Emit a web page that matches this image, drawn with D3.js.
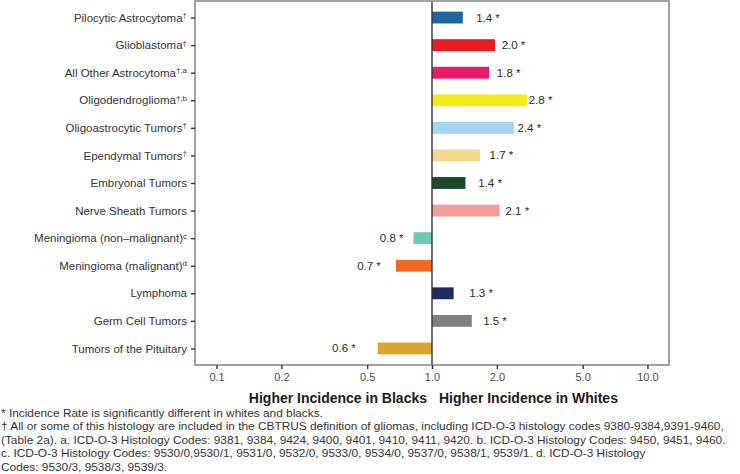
<!DOCTYPE html>
<html>
<head>
<meta charset="utf-8">
<script src="https://cdn.jsdelivr.net/npm/d3@7"></script>
<style>
  body { margin: 0; background: #fff; }
  svg { font-family: "Liberation Sans", Arial, sans-serif; }
</style>
</head>
<body>
<svg width="740" height="474"></svg>
<script>
// histologies, from top to bottom
const histologies = [
    "Pilocytic Astrocytoma", "Glioblastoma", "All Other Astrocytoma",
    "Oligodendroglioma", "Oligoastrocytic Tumors", "Ependymal Tumors",
    "Embryonal Tumors", "Nerve Sheath Tumors", "Meningioma (non\u2013malignant)",
    "Meningioma (malignant)", "Lymphoma", "Germ Cell Tumors", "Tumors of the Pituitary"
];
// superscripts after the names
const superscripts = ["\u2020", "\u2020", "\u2020,a", "\u2020,b", "\u2020", "\u2020", "", "", "c", "d", "", "", ""];

// incidence rate ratio whites / blacks
const ratios = [1.39, 1.96, 1.84, 2.76, 2.40, 1.67, 1.43, 2.06, 0.82, 0.68, 1.26, 1.53, 0.56];
const significant = [true, true, true, true, true, true, true, true, true, true, true, true, true];

const barColors = ["#1f65a0", "#ec1c24", "#ea1a6a", "#f4ea1c", "#a3d5f1", "#f6d78f", "#1a4a2b",
                   "#f49b9b", "#6dc9b0", "#ef6b24", "#1c2a5f", "#808080", "#e0a22e"];

const tickValues = [0.1, 0.2, 0.5, 1, 2, 5, 10];

const footnotes = [
    "* Incidence Rate is significantly different in whites and blacks.",
    "\u2020 All or some of this histology are included in the CBTRUS definition of gliomas, including ICD-O-3 histology codes 9380-9384,9391-9460,",
    "(Table 2a). a. ICD-O-3 Histology Codes: 9381, 9384, 9424, 9400, 9401, 9410, 9411, 9420. b. ICD-O-3 Histology Codes: 9450, 9451, 9460.",
    "c. ICD-O-3 Histology Codes: 9530/0,9530/1, 9531/0, 9532/0,  9533/0, 9534/0, 9537/0, 9538/1, 9539/1. d. ICD-O-3 Histology",
    "Codes: 9530/3, 9538/3, 9539/3."
];

const data = histologies.map((h, i) => ({
    name: h, sup: superscripts[i], value: ratios[i], sig: significant[i], color: barColors[i]
}));

const svg = d3.select("svg");

// область панели
const panel = { left: 195, right: 669, top: 1, bottom: 365 };

const scX = d3.scaleLog()
    .domain([Math.pow(10, -1.1), Math.pow(10, 1.1)])
    .range([panel.left, panel.right]);

const scY = d3.scalePoint()
    .domain(histologies)
    .range([panel.top, panel.bottom])
    .padding(0.6);

const barH = scY.step() * 0.43;

// бары от 1
svg.selectAll("rect.bar")
    .data(data)
    .enter()
    .append("rect")
    .attr("class", "bar")
    .attr("x", d => Math.min(scX(1), scX(d.value)))
    .attr("y", d => scY(d.name) - barH / 2)
    .attr("width", d => Math.abs(scX(d.value) - scX(1)))
    .attr("height", barH)
    .style("fill", d => d.color);

// подписи значений
const fmt = d3.format(".1f");
svg.selectAll("text.val")
    .data(data)
    .enter()
    .append("text")
    .attr("class", "val")
    .attr("x", d => scX(d.value >= 1 ? d.value + 0.43 : d.value - 0.17))
    .attr("y", d => scY(d.name))
    .attr("dy", "0.35em")
    .attr("text-anchor", "middle")
    .style("font-size", "11.5px")
    .style("fill", "#2b2b2b")
    .text(d => fmt(d.value) + (d.sig ? " *" : ""));

// vertical line at 1
svg.append("line")
    .attr("x1", scX(1)).attr("x2", scX(1))
    .attr("y1", panel.top).attr("y2", panel.bottom)
    .style("stroke", "#333")
    .style("stroke-width", 1.4);

// рамка
svg.append("rect")
    .attr("x", panel.left).attr("y", panel.top)
    .attr("width", panel.right - panel.left)
    .attr("height", panel.bottom - panel.top)
    .style("fill", "none")
    .style("stroke", "#8a8a8a")
    .style("stroke-width", 1.6);

// ось X
const gx = svg.append("g")
    .attr("transform", `translate(0, ${panel.bottom})`)
    .call(d3.axisBottom(scX).tickValues(tickValues).tickFormat(fmt).tickSize(4).tickPadding(4));
gx.select(".domain").remove();
gx.selectAll("line").style("stroke", "#333").style("stroke-width", 1.4);
gx.selectAll("text").style("font-size", "11px").style("fill", "#4d4d4d").style("font-family", "Liberation Sans, Arial, sans-serif");

// ось Y
const gy = svg.append("g")
    .attr("transform", `translate(${panel.left}, 0)`)
    .call(d3.axisLeft(scY).tickSize(4).tickPadding(4));
gy.select(".domain").remove();
gy.selectAll("line").style("stroke", "#333").style("stroke-width", 1.4);
gy.selectAll("text")
    .style("font-size", "11.5px")
    .style("fill", "#333")
    .style("font-family", "Liberation Sans, Arial, sans-serif")
    .each(function(d, i) {
        const t = d3.select(this);
        t.text(null);
        t.append("tspan").text(d);
        if (superscripts[i]) {
            t.append("tspan")
                .attr("dy", "-0.45em")
                .style("font-size", "8px")
                .text(superscripts[i]);
        }
    });

// заголовок оси X
const titleY = 403;
svg.append("text")
    .attr("x", scX(1) - 5).attr("y", titleY)
    .attr("text-anchor", "end")
    .style("font-size", "14px").style("font-weight", "bold").style("fill", "#1a1a1a")
    .text("Higher Incidence in Blacks");
svg.append("text")
    .attr("x", scX(1) + 7).attr("y", titleY)
    .attr("text-anchor", "start")
    .style("font-size", "14px").style("font-weight", "bold").style("fill", "#1a1a1a")
    .text("Higher Incidence in Whites");

// сноски - узкий шрифт, сжимаем по горизонтали одной шкалой
const gNotes = svg.append("g");
gNotes.selectAll("text.note")
    .data(footnotes)
    .enter()
    .append("text")
    .attr("class", "note")
    .attr("x", 0)
    .attr("y", (d, i) => i * 13.4)
    .style("font-size", "10.5px")
    .style("fill", "#333")
    .text(d => d);

const longest = gNotes.selectAll("text.note").nodes()[1].getComputedTextLength();
const sx = 724 / longest;
gNotes.attr("transform", `translate(1, 417) scale(${sx}, 1)`);
</script>
</body>
</html>
